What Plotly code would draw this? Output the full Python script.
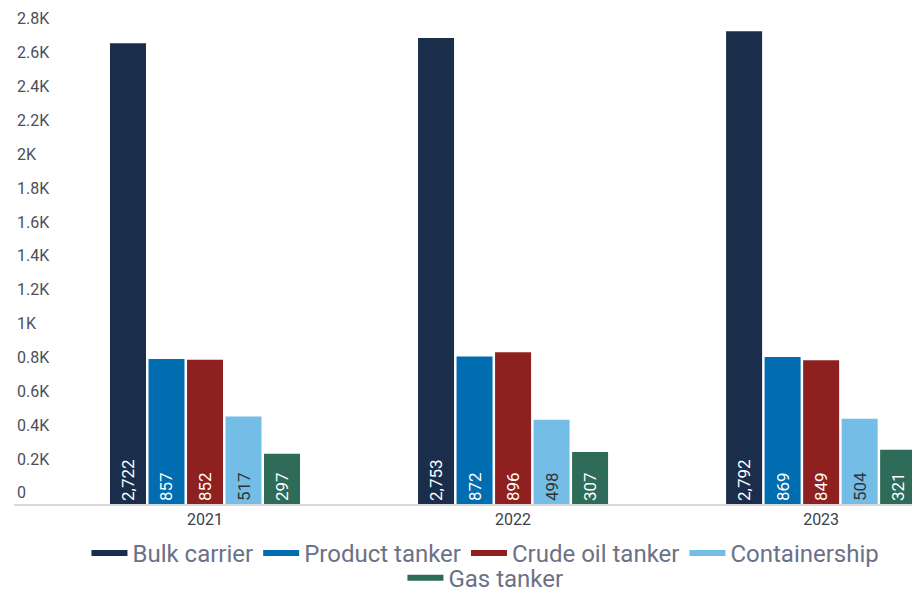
import plotly.graph_objects as go

years = ["2021", "2022", "2023"]
series_names = ["Bulk carrier", "Product tanker", "Crude oil tanker", "Containership", "Gas tanker"]
bulk_carrier = [2722, 2753, 2792]
product_tanker = [857, 872, 869]
crude_oil_tanker = [852, 896, 849]
containership = [517, 498, 504]
gas_tanker = [297, 307, 321]

y_tick_vals = [0, 200, 400, 600, 800, 1000, 1200, 1400, 1600, 1800, 2000, 2200, 2400, 2600, 2800]
y_tick_text = ["0", "0.2K", "0.4K", "0.6K", "0.8K", "1K", "1.2K", "1.4K", "1.6K",
               "1.8K", "2K", "2.2K", "2.4K", "2.6K", "2.8K"]

colors = ["#1a2e4c", "#006db0", "#8f2020", "#74bde6", "#2e6b58"]
label_colors = ["#ffffff", "#ffffff", "#ffffff", "#333333", "#ffffff"]
values = [bulk_carrier, product_tanker, crude_oil_tanker, containership, gas_tanker]
# first four entries on the upper legend row, the last one centred below
legend_rows = ["legend", "legend", "legend", "legend", "legend2"]

fig = go.Figure()
for name, vals, col, lc in zip(series_names, values, colors, label_colors):
    fig.add_trace(go.Bar(
        x=years, y=vals, name=name, marker_color=col, marker_line_width=0,
        texttemplate="%{y:,}", textposition="inside", insidetextanchor="start",
        textangle=-90, constraintext="none",
        textfont=dict(family="Roboto", size=17, color=lc),
        showlegend=False, hoverinfo="x+y+name",
    ))

# Legend entries drawn as short thick lines
for name, col, lg in zip(series_names, colors, legend_rows):
    fig.add_trace(go.Scatter(
        x=[None], y=[None], mode="lines", name=name,
        line=dict(color=col, width=6), showlegend=True, legend=lg,
    ))

legend_style = dict(
    orientation="h", xanchor="center", yanchor="top",
    font=dict(size=24, color="#6b7186"), itemwidth=36,
    bgcolor="rgba(0,0,0,0)",
)

fig.update_layout(
    width=912, height=589,
    margin=dict(l=14, r=0, t=8, b=85, autoexpand=False),
    paper_bgcolor="white", plot_bgcolor="white",
    barmode="group", bargap=0.375, bargroupgap=0.065,
    font=dict(family="Roboto", color="#4a4f5c"),
    legend=dict(x=0.525, y=-0.054, **legend_style),
    legend2=dict(x=0.525, y=-0.104, **legend_style),
    xaxis=dict(
        type="category", range=[-0.62, 2.295], showgrid=False,
        showline=True, linecolor="#d9d9d9", linewidth=2,
        ticks="", tickfont=dict(size=16, color="#3a3f4a"),
    ),
    yaxis=dict(
        range=[0, 2930], showgrid=False, zeroline=False, showline=False,
        tickvals=y_tick_vals, ticktext=y_tick_text,
        ticklabelposition="inside top", ticks="",
        tickfont=dict(size=16, color="#4a4f5c"),
    ),
)

fig.write_html("out.html")
